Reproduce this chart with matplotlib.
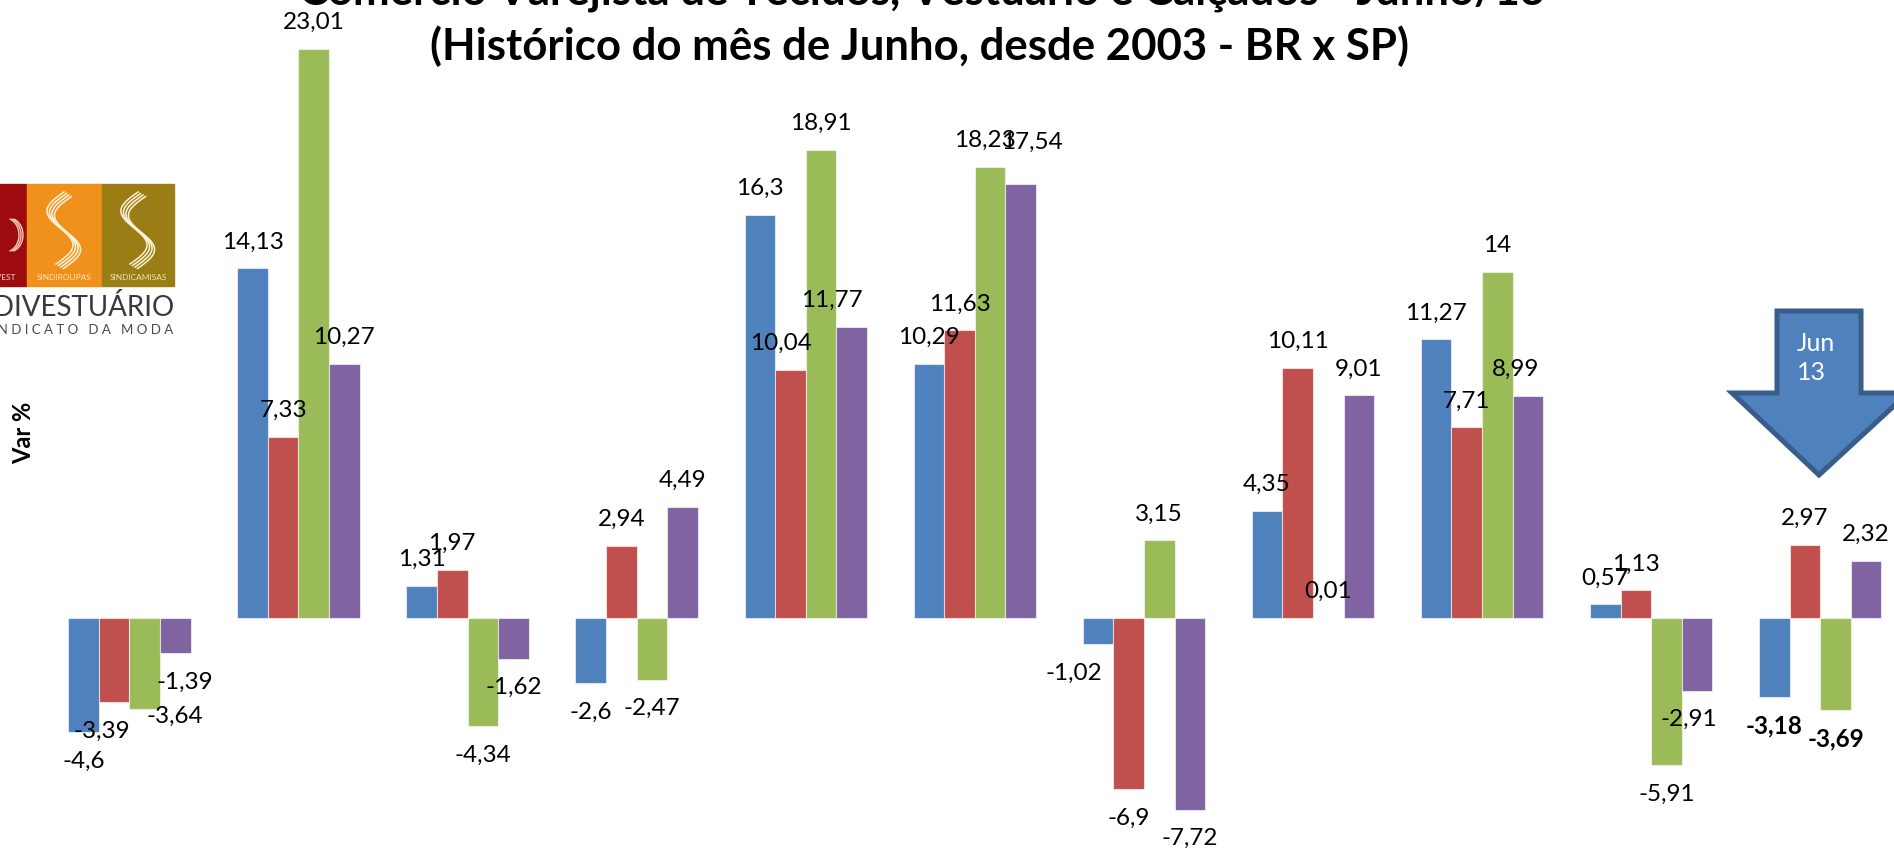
import numpy as np
import matplotlib
matplotlib.use("Agg")
import matplotlib.pyplot as plt
from matplotlib.patches import Polygon, Rectangle

plt.rcParams['font.family'] = ['Lato', 'DejaVu Sans']

# ---------------- data ----------------
years = ["2003", "2004", "2005", "2006", "2007", "2008", "2009", "2010", "2011", "2012", "2013"]
serie_azul = [-4.6, 14.13, 1.31, -2.6, 16.3, 10.29, -1.02, 4.35, 11.27, 0.57, -3.18]
serie_vermelha = [-3.39, 7.33, 1.97, 2.94, 10.04, 11.63, -6.9, 10.11, 7.71, 1.13, 2.97]
serie_verde = [-3.64, 23.01, -4.34, -2.47, 18.91, 18.23, 3.15, 0.01, 14, -5.91, -3.69]
serie_roxa = [-1.39, 10.27, -1.62, 4.49, 11.77, 17.54, -7.72, 9.01, 8.99, -2.91, 2.32]

title_line1 = "Comércio Varejista de Tecidos, Vestuário e Calçados - Junho/13"
title_line2 = "(Histórico do mês de Junho, desde 2003 - BR x SP)"
ylabel = "Var %"
arrow_text = "Jun\n13"

series = [serie_azul, serie_vermelha, serie_verde, serie_roxa]
colors = ["#4F81BD", "#C0504D", "#9BBB59", "#8064A2"]

# manual label nudges (points), keyed by (series index, group index)
nudges = {
    (1, 0): (-8.7, 0), (2, 0): (21.8, 15.7), (3, 0): (7, 0),
    (1, 4): (-7, 0), (3, 4): (-14, 0),
    (2, 5): (-3.5, 0), (3, 5): (7.8, 11.3),
    (0, 6): (-17.4, 0),
    (3, 8): (-8.7, 0),
    (3, 9): (-6, 0),
}
bold_labels = {(0, 10), (2, 10)}

W, H = 1894, 850
fig = plt.figure(figsize=(W / 100, H / 100), dpi=100)
ax = fig.add_axes([0, 0, 1, 1])

x = np.arange(len(years))
bw = 0.181
for si, (vals, col) in enumerate(zip(series, colors)):
    pos = x + (si - 1.5) * bw
    ax.bar(pos, vals, width=bw, color=col, edgecolor=(1, 1, 1, 0.6), linewidth=0.8, zorder=2)
    for gi, (px, v) in enumerate(zip(pos, vals)):
        dx, dy = nudges.get((si, gi), (0, 0))
        base = 19 if v >= 0 else -21
        txt = f"{v:g}".replace(".", ",")
        ax.annotate(txt, (px, v), xytext=(dx, base + dy), textcoords="offset points",
                    ha="center", va="center", fontsize=17.5,
                    fontweight="bold" if (si, gi) in bold_labels else "normal",
                    color="black", zorder=5)

ax.set_xlim(-0.765, 10.436)
ax.set_ylim(-9.35, 24.97)
ax.axis("off")

# ---------------- overlay in pixel coordinates ----------------
ov = fig.add_axes([0, 0, 1, 1], zorder=10)
ov.set_xlim(0, W)
ov.set_ylim(H, 0)
ov.axis("off")
ov.patch.set_alpha(0)

ov.text(922, 4, title_line1, ha="center", va="baseline", fontsize=31.5, fontweight="bold")
ov.text(920, 60, title_line2, ha="center", va="baseline", fontsize=31.5, fontweight="bold")

ov.text(24, 433, ylabel, rotation=90, ha="center", va="center", fontsize=17, fontweight="bold")

# logo
ov.add_patch(Rectangle((0, 184), 27, 102, color="#9E0B0F", zorder=1))
ov.add_patch(Rectangle((27, 184), 75, 102, color="#F0911C", zorder=1))
ov.add_patch(Rectangle((102, 184), 72, 102, color="#9A7D15", zorder=1))
t = np.linspace(0, 1, 80)
for cx in (64, 138):
    for k in range(4):
        xs = cx - 15 * np.sin(2 * np.pi * t) + 8 * (0.5 - t) + k * 2.5 - 4
        ys = 192 + 72 * t + k * 1.5
        ov.plot(xs, ys, color="#FFF3DC", lw=1.1, zorder=2)
for k in range(3):
    th = np.linspace(-1.2, 1.2, 40)
    ov.plot(5 + 14 * np.cos(th) + k * 2, 235 + 17 * np.sin(th), color="#F2C9B0", lw=1, zorder=2)
ov.text(16, 278, "SINDIVEST", ha="right", va="center", fontsize=6, color="#F4D9C8")
ov.text(64, 278, "SINDIROUPAS", ha="center", va="center", fontsize=6, color="#FBE3B8")
ov.text(138, 278, "SINDICAMISAS", ha="center", va="center", fontsize=6, color="#EFE3B8")
ov.text(174, 316, "SINDIVESTUÁRIO", ha="right", va="baseline", fontsize=20, color="#3A3A3A")
ov.text(173, 334, "S I N D I C A T O   D A   M O D A", ha="right", va="baseline", fontsize=9.5, color="#4A4A4A")

# arrow
arrow_pts = [(1777, 311), (1861, 311), (1861, 393), (1908, 393), (1819, 475),
             (1732, 393), (1777, 393)]
ov.add_patch(Polygon(arrow_pts, closed=True, facecolor="#4F81BD", edgecolor="#385D8A",
                     linewidth=3.6, joinstyle="miter", zorder=3))
ov.text(1797, 358, arrow_text, ha="left", va="center", fontsize=18, color="white",
        linespacing=1.35, zorder=4)

fig.savefig("out.png", dpi=100)
